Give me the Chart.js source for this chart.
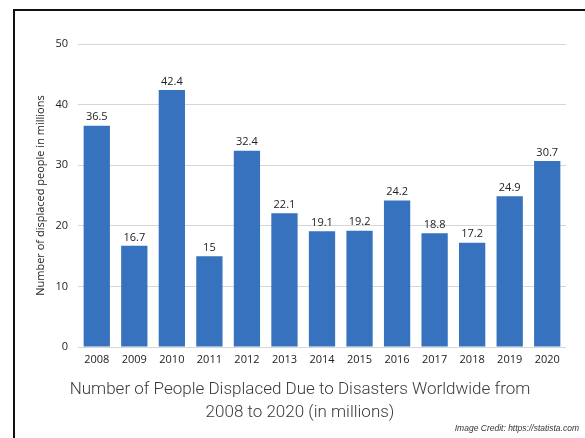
<!DOCTYPE html>
<html lang="en">
<head>
    <meta charset="UTF-8">
    <title>People Displaced Due to Disasters</title>
    <style>
        html, body {
            margin: 0;
            padding: 0;
            background-color: #fff;
            overflow: hidden;
        }
        .chart-container {
            position: relative;
            width: 585px;
            height: 438px;
        }
    </style>
    <script src="https://cdn.jsdelivr.net/npm/chart.js"></script>
</head>
<body>
    <div class="chart-container">
        <canvas id="displacedChart"></canvas>
    </div>
    <script>
        const years = ["2008", "2009", "2010", "2011", "2012", "2013", "2014", "2015", "2016", "2017", "2018", "2019", "2020"];
        const displaced = [36.5, 16.7, 42.4, 15, 32.4, 22.1, 19.1, 19.2, 24.2, 18.8, 17.2, 24.9, 30.7];
        const yTicks = [0, 10, 20, 30, 40, 50];

        // frame, value labels above the bars, image credit
        const extras = {
            id: "extras",
            beforeDraw(chart) {
                const ctx = chart.ctx;
                ctx.save();
                ctx.fillStyle = "#111";
                ctx.fillRect(13, 9, 2, chart.height - 9);
                ctx.fillRect(13, 9, chart.width - 13, 2);
                ctx.restore();
            },
            afterDatasetsDraw(chart) {
                const ctx = chart.ctx;
                const meta = chart.getDatasetMeta(0);
                ctx.save();
                ctx.font = "11px 'Open Sans', sans-serif";
                ctx.fillStyle = "#222";
                ctx.textAlign = "center";
                ctx.textBaseline = "bottom";
                meta.data.forEach((bar, i) => {
                    ctx.fillText(String(displaced[i]), bar.x, bar.y - 3);
                });
                ctx.font = "italic 8.5px 'Liberation Sans', Arial, sans-serif";
                ctx.fillStyle = "#333";
                ctx.textAlign = "right";
                ctx.textBaseline = "middle";
                ctx.fillText("Image Credit: https://statista.com", 579, 429);
                ctx.restore();
            }
        };

        const ctx = document.getElementById("displacedChart").getContext("2d");
        new Chart(ctx, {
            type: "bar",
            data: {
                labels: years,
                datasets: [{
                    data: displaced,
                    backgroundColor: "#3672bd",
                    barPercentage: 0.7,
                    categoryPercentage: 1.0,
                }],
            },
            options: {
                responsive: true,
                maintainAspectRatio: false,
                animation: false,
                layout: {
                    padding: { left: 34, right: 19, top: 44, bottom: 14 },
                },
                plugins: {
                    legend: { display: false },
                    tooltip: { enabled: false },
                    title: {
                        display: true,
                        position: "bottom",
                        text: ["Number of People Displaced Due to Disasters Worldwide from", "2008 to 2020 (in millions)"],
                        color: "#3a3a3a",
                        font: { family: "Roboto, sans-serif", size: 17, weight: 300, lineHeight: 1.35 },
                        padding: { top: 9, bottom: 0 },
                    },
                },
                scales: {
                    x: {
                        grid: { display: false, drawTicks: false },
                        border: { display: false },
                        ticks: {
                            color: "#222",
                            font: { family: "'Open Sans', sans-serif", size: 11 },
                            padding: 6,
                            maxRotation: 0,
                        },
                        afterFit(scale) { scale.height = 22; },
                    },
                    y: {
                        min: 0,
                        max: 50,
                        afterBuildTicks(scale) {
                            scale.ticks = yTicks.map(v => ({ value: v }));
                        },
                        grid: { color: "#d6d6d6", drawTicks: false },
                        border: { display: false },
                        ticks: {
                            color: "#222",
                            font: { family: "'Open Sans', sans-serif", size: 11 },
                            padding: 10,
                        },
                        title: {
                            display: true,
                            text: "Number of displaced people in millions",
                            color: "#222",
                            font: { family: "'Open Sans', sans-serif", size: 11 },
                            padding: 0,
                        },
                        afterFit(scale) { scale.width = 44; },
                    },
                },
            },
            plugins: [extras],
        });
    </script>
</body>
</html>
